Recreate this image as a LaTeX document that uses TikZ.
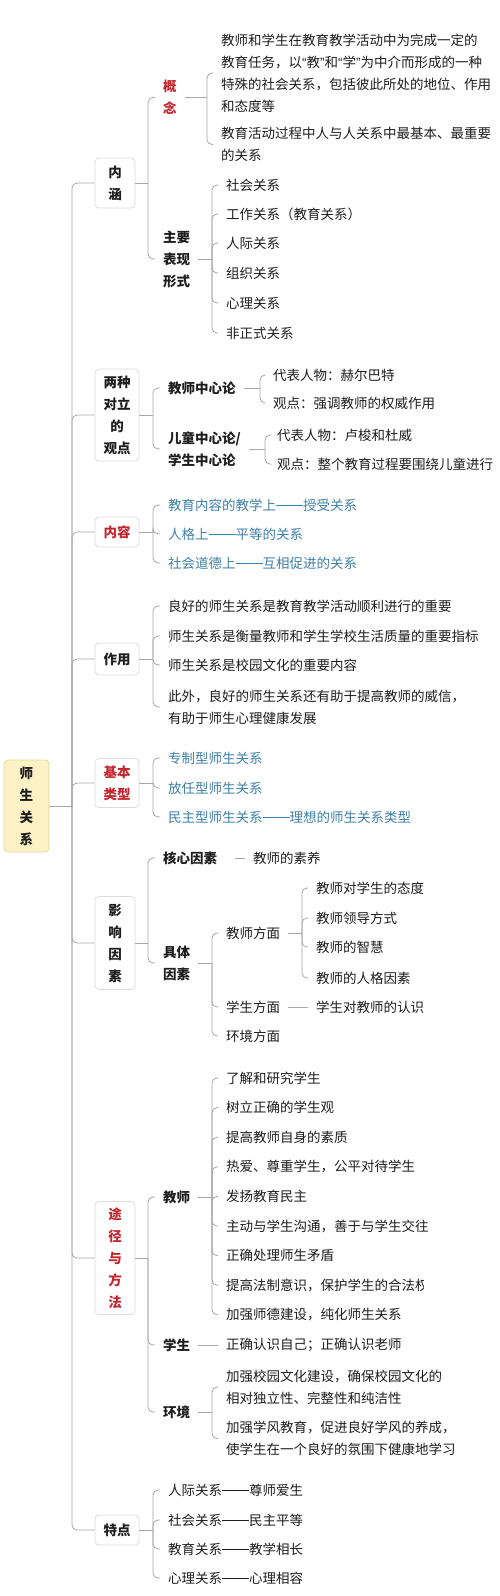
\documentclass[tikz,border=0pt]{standalone}
\usepackage{fontspec}
\setmainfont{Noto Sans CJK SC}
\newfontfamily\latq{Liberation Sans}
\definecolor{lnc}{HTML}{A6A6A6}
\definecolor{bxc}{HTML}{DCDCDC}
\definecolor{redc}{HTML}{C4262E}
\definecolor{tealc}{HTML}{3F80A8}
\definecolor{rootf}{HTML}{FCF2C6}
\definecolor{rootd}{HTML}{EAD89C}
\definecolor{txc}{HTML}{1E1E1E}
\newcommand\myfs{\fontsize{13.5}{22}\selectfont}
\newcommand\cq[1]{{\latq “}#1{\latq ”}}
\newcommand\dd{\makebox[2em]{\rule[0.34em]{2em}{0.065em}}}
\begin{document}
\begin{tikzpicture}[x=1pt,y=-1pt,
  txt/.style={anchor=west, inner xsep=8pt, inner ysep=1pt, align=left, text=txc, font=\myfs},
  btxt/.style={txt, font=\myfs\bfseries},
  rtxt/.style={txt, font=\myfs\bfseries, text=redc},
  ttxt/.style={txt, text=tealc},
  box/.style={draw=bxc, fill=white, rounded corners=4pt, align=center, inner sep=0pt, font=\myfs\bfseries, text=txc, line width=0.8pt},
  conn/.style={draw=lnc, line width=0.8pt, rounded corners=5pt},
]
\fill[white] (0,0) rectangle (500,1596);
\useasboundingbox (0,0) rectangle (500,1596);

% column positions of the brackets
\coordinate (xT) at (72,0);
\coordinate (xA) at (148,0);
\coordinate (xB) at (153,0);
\coordinate (xC) at (207,0);
\coordinate (xD) at (212,0);
\coordinate (xE) at (260,0);
\coordinate (xF) at (265,0);
\coordinate (xG) at (302,0);

% root
\node[box, fill=rootf, draw=rootd, minimum width=45pt, minimum height=92pt] (root) at (26.5,806) {师\\生\\关\\系};

% level 1 boxes
\node[box, minimum width=40pt, minimum height=50pt] (n1) at (115,183) {内\\涵};
\node[box, minimum width=44pt, minimum height=92pt] (n2) at (117,415) {两种\\对立\\的\\观点};
\node[box, minimum width=44pt, minimum height=30pt, text=redc] (n3) at (117,532) {内容};
\node[box, minimum width=44pt, minimum height=32pt] (n4) at (117,659) {作用};
\node[box, minimum width=44pt, minimum height=49pt, text=redc] (n5) at (117,783) {基本\\类型};
\node[box, minimum width=40pt, minimum height=93pt] (n6) at (115,943) {影\\响\\因\\素};
\node[box, minimum width=40pt, minimum height=113pt, text=redc] (n7) at (115,1258) {途\\径\\与\\方\\法};
\node[box, minimum width=44pt, minimum height=30pt] (n8) at (117,1530) {特点};

% 内涵
\node[rtxt] (gn) at (155,97.5) {概\\念};
\node[btxt] (zy) at (155,259) {主要\\表现\\形式};
\node[txt] (gn1) at (213,73) {教师和学生在教育教学活动中为完成一定的\\教育任务，以\cq{教}和\cq{学}为中介而形成的一种\\特殊的社会关系，包括彼此所处的地位、作用\\和态度等};
\node[txt] (gn2) at (213,144.5) {教育活动过程中人与人关系中最基本、最重要\\的关系};
\node[txt] (zy1) at (218,185) {社会关系};
\node[txt] (zy2) at (218,214) {工作关系（教育关系）};
\node[txt] (zy3) at (218,243) {人际关系};
\node[txt] (zy4) at (218,273) {组织关系};
\node[txt] (zy5) at (218,303) {心理关系};
\node[txt] (zy6) at (218,333) {非正式关系};

% 两种对立的观点
\node[btxt] (jx) at (160,388) {教师中心论};
\node[txt] (jx1) at (265,375) {代表人物：赫尔巴特};
\node[txt] (jx2) at (265,403) {观点：强调教师的权威作用};
\node[btxt] (et) at (160,449) {儿童中心论/\\学生中心论};
\node[txt] (et1) at (269,435) {代表人物：卢梭和杜威};
\node[txt] (et2) at (269,464) {观点：整个教育过程要围绕儿童进行};

% 内容
\node[ttxt] (nr1) at (160,505) {教育内容的教学上\dd 授受关系};
\node[ttxt] (nr2) at (160,534) {人格上\dd 平等的关系};
\node[ttxt] (nr3) at (160,563) {社会道德上\dd 互相促进的关系};

% 作用
\node[txt] (zu1) at (160,606) {良好的师生关系是教育教学活动顺利进行的重要};
\node[txt] (zu2) at (160,636) {师生关系是衡量教师和学生学校生活质量的重要指标};
\node[txt] (zu3) at (160,665) {师生关系是校园文化的重要内容};
\node[txt] (zu4) at (160,707) {此外，良好的师生关系还有助于提高教师的威信，\\有助于师生心理健康发展};

% 基本类型
\node[ttxt] (lx1) at (160,758) {专制型师生关系};
\node[ttxt] (lx2) at (160,788) {放任型师生关系};
\node[ttxt] (lx3) at (160,817) {民主型师生关系\dd 理想的师生关系类型};

% 影响因素
\node[btxt] (hx) at (155,858) {核心因素};
\node[txt] (sy) at (245,858) {教师的素养};
\node[btxt] (jt) at (155,963) {具体\\因素};
\node[txt] (jsf) at (218,933) {教师方面};
\node[txt] (jf1) at (308,888) {教师对学生的态度};
\node[txt] (jf2) at (308,918) {教师领导方式};
\node[txt] (jf3) at (308,947) {教师的智慧};
\node[txt] (jf4) at (308,978) {教师的人格因素};
\node[txt] (xsf) at (218,1007) {学生方面};
\node[txt] (xr) at (308,1007) {学生对教师的认识};
\node[txt] (hjf) at (218,1036) {环境方面};

% 途径与方法
\node[btxt] (js) at (155,1197) {教师};
\node[txt] (js1) at (218,1078) {了解和研究学生};
\node[txt] (js2) at (218,1107.6) {树立正确的学生观};
\node[txt] (js3) at (218,1137.2) {提高教师自身的素质};
\node[txt] (js4) at (218,1166.8) {热爱、尊重学生，公平对待学生};
\node[txt] (js5) at (218,1196.4) {发扬教育民主};
\node[txt] (js6) at (218,1226) {主动与学生沟通，善于与学生交往};
\node[txt] (js7) at (218,1255.6) {正确处理师生矛盾};
\node[txt] (js8) at (218,1285.2) {提高法制意识，保护学生的合法权};
\fill[white] (424,1274) rectangle (445,1297);
\node[txt] (js9) at (218,1314.8) {加强师德建设，纯化师生关系};
\node[btxt] (xs) at (155,1345) {学生};
\node[txt] (xs1) at (218,1345) {正确认识自己；正确认识老师};
\node[btxt] (hj) at (155,1412) {环境};
\node[txt] (hj1) at (218,1387) {加强校园文化建设，确保校园文化的\\相对独立性、完整性和纯洁性};
\node[txt] (hj2) at (218,1438.5) {加强学风教育，促进良好学风的养成，\\使学生在一个良好的氛围下健康地学习};

% 特点
\node[txt] (td1) at (160,1490) {人际关系\dd 尊师爱生};
\node[txt] (td2) at (160,1520) {社会关系\dd 民主平等};
\node[txt] (td3) at (160,1549) {教育关系\dd 教学相长};
\node[txt] (td4) at (160,1578) {心理关系\dd 心理相容};

% connectors
\draw[conn] (root.east) -- (root.east -| xT) coordinate (T);
\foreach \c in {n1,n2,n3,n4,n5,n6,n7,n8} \draw[conn] (T) |- (\c.west);

\draw[conn] (n1.east) -- (n1.east -| xA) coordinate (b1);
\foreach \c in {gn,zy} \draw[conn] (b1) |- (\c.west);
\draw[conn] (gn.east) -- (gn.east -| xC) coordinate (b11);
\foreach \c in {gn1,gn2} \draw[conn] (b11) |- (\c.west);
\draw[conn] (zy.east) -- (zy.east -| xD) coordinate (b12);
\foreach \c in {zy1,zy2,zy3,zy4,zy5,zy6} \draw[conn] (b12) |- (\c.west);

\draw[conn] (n2.east) -- (n2.east -| xB) coordinate (b2);
\foreach \c in {jx,et} \draw[conn] (b2) |- (\c.west);
\draw[conn] (jx.east) -- (jx.east -| xE) coordinate (b21);
\foreach \c in {jx1,jx2} \draw[conn] (b21) |- (\c.west);
\draw[conn] (et.east) -- (et.east -| xF) coordinate (b22);
\foreach \c in {et1,et2} \draw[conn] (b22) |- (\c.west);

\draw[conn] (n3.east) -- (n3.east -| xB) coordinate (b3);
\foreach \c in {nr1,nr2,nr3} \draw[conn] (b3) |- (\c.west);

\draw[conn] (n4.east) -- (n4.east -| xB) coordinate (b4);
\foreach \c in {zu1,zu2,zu3,zu4} \draw[conn] (b4) |- (\c.west);

\draw[conn] (n5.east) -- (n5.east -| xB) coordinate (b5);
\foreach \c in {lx1,lx2,lx3} \draw[conn] (b5) |- (\c.west);

\draw[conn] (n6.east) -- (n6.east -| xA) coordinate (b6);
\foreach \c in {hx,jt} \draw[conn] (b6) |- (\c.west);
\draw[conn, shorten <=10pt] (hx.east) -- (sy.west);
\draw[conn] (jt.east) -- (jt.east -| xD) coordinate (b62);
\foreach \c in {jsf,xsf,hjf} \draw[conn] (b62) |- (\c.west);
\draw[conn] (jsf.east) -- (jsf.east -| xG) coordinate (b621);
\foreach \c in {jf1,jf2,jf3,jf4} \draw[conn] (b621) |- (\c.west);
\draw[conn] (xsf.east) -- (xr.west);

\draw[conn] (n7.east) -- (n7.east -| xA) coordinate (b7);
\foreach \c in {js,xs,hj} \draw[conn] (b7) |- (\c.west);
\draw[conn] (js.east) -- (js.east -| xD) coordinate (b71);
\foreach \c in {js1,js2,js3,js4,js5,js6,js7,js8,js9} \draw[conn] (b71) |- (\c.west);
\draw[conn] (xs.east) -- (xs1.west);
\draw[conn] (hj.east) -- (hj.east -| xD) coordinate (b73);
\foreach \c in {hj1,hj2} \draw[conn] (b73) |- (\c.west);

\draw[conn] (n8.east) -- (n8.east -| xB) coordinate (b8);
\foreach \c in {td1,td2,td3,td4} \draw[conn] (b8) |- (\c.west);
\end{tikzpicture}
\end{document}
